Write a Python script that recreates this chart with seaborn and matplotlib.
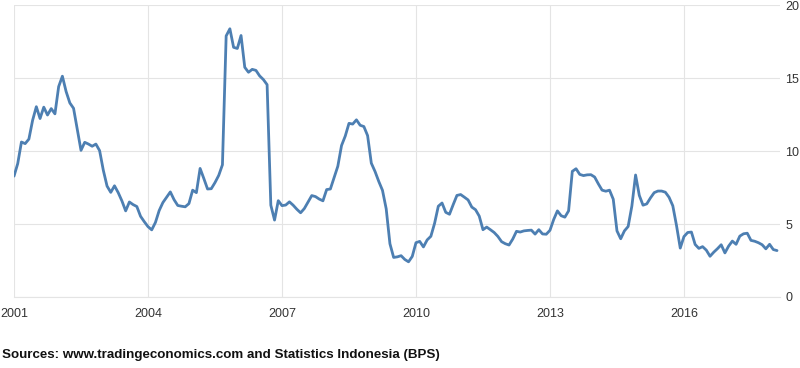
"""
Indonesia inflation rate (YoY, %), monthly, Jan 2001 - Feb 2018.
Recreated in the trading economics chart style.
"""

import matplotlib
matplotlib.use("Agg")

import matplotlib.pyplot as plt
import numpy as np
import pandas as pd
import seaborn as sns


# -----------------------------
# 1. Data
# -----------------------------

START_YEAR = 2001

# Monthly inflation values, one list per year (Jan..Dec).
INFLATION_2001 = [8.28, 9.14, 10.62, 10.51, 10.82, 12.11, 13.04, 12.23, 13.01, 12.47, 12.91, 12.55]
INFLATION_2002 = [14.42, 15.13, 14.08, 13.30, 12.93, 11.48, 10.05, 10.60, 10.48, 10.33, 10.48, 10.03]
INFLATION_2003 = [8.68, 7.60, 7.17, 7.62, 7.15, 6.58, 5.90, 6.51, 6.33, 6.20, 5.53, 5.16]
INFLATION_2004 = [4.82, 4.60, 5.11, 5.92, 6.47, 6.83, 7.20, 6.67, 6.27, 6.22, 6.18, 6.40]
INFLATION_2005 = [7.32, 7.15, 8.81, 8.12, 7.40, 7.42, 7.84, 8.33, 9.06, 17.89, 18.38, 17.11]
INFLATION_2006 = [17.03, 17.92, 15.74, 15.40, 15.60, 15.53, 15.15, 14.90, 14.55, 6.29, 5.27, 6.60]
INFLATION_2007 = [6.26, 6.30, 6.52, 6.29, 6.01, 5.77, 6.06, 6.51, 6.95, 6.88, 6.71, 6.59]
INFLATION_2008 = [7.36, 7.40, 8.17, 8.96, 10.38, 11.03, 11.90, 11.85, 12.14, 11.77, 11.68, 11.06]
INFLATION_2009 = [9.17, 8.60, 7.92, 7.31, 6.04, 3.65, 2.71, 2.75, 2.83, 2.57, 2.41, 2.78]
INFLATION_2010 = [3.72, 3.81, 3.43, 3.91, 4.16, 5.05, 6.22, 6.44, 5.80, 5.67, 6.33, 6.96]
INFLATION_2011 = [7.02, 6.84, 6.65, 6.16, 5.98, 5.54, 4.61, 4.79, 4.61, 4.42, 4.15, 3.79]
INFLATION_2012 = [3.65, 3.56, 3.97, 4.50, 4.45, 4.53, 4.56, 4.58, 4.31, 4.61, 4.32, 4.30]
INFLATION_2013 = [4.57, 5.31, 5.90, 5.57, 5.47, 5.90, 8.61, 8.79, 8.40, 8.32, 8.37, 8.38]
INFLATION_2014 = [8.22, 7.75, 7.32, 7.25, 7.32, 6.70, 4.53, 3.99, 4.53, 4.83, 6.23, 8.36]
INFLATION_2015 = [6.96, 6.29, 6.38, 6.79, 7.15, 7.26, 7.26, 7.18, 6.83, 6.25, 4.89, 3.35]
INFLATION_2016 = [4.14, 4.42, 4.45, 3.60, 3.33, 3.45, 3.21, 2.79, 3.07, 3.31, 3.58, 3.02]
INFLATION_2017 = [3.49, 3.83, 3.61, 4.17, 4.33, 4.37, 3.88, 3.82, 3.72, 3.58, 3.30, 3.61]
INFLATION_2018 = [3.25, 3.18]

X_TICKS = [2001, 2004, 2007, 2010, 2013, 2016]
Y_TICKS = [0, 5, 10, 15, 20]

SOURCE_TEXT = "Sources: www.tradingeconomics.com and Statistics Indonesia (BPS)"

LINE_COLOR = "#4d7fb2"
GRID_COLOR = "#e4e4e4"
LABEL_COLOR = "#333333"


# -----------------------------
# 2. Build the table
# -----------------------------

def build_frame() -> pd.DataFrame:
    """Join the yearly lists into one monthly table with a decimal year column."""
    values = (
        INFLATION_2001 + INFLATION_2002 + INFLATION_2003 + INFLATION_2004
        + INFLATION_2005 + INFLATION_2006 + INFLATION_2007 + INFLATION_2008
        + INFLATION_2009 + INFLATION_2010 + INFLATION_2011 + INFLATION_2012
        + INFLATION_2013 + INFLATION_2014 + INFLATION_2015 + INFLATION_2016
        + INFLATION_2017 + INFLATION_2018
    )
    year = START_YEAR + np.arange(len(values)) / 12
    return pd.DataFrame({"Year": year, "Inflation": values})


# -----------------------------
# 3. Plot
# -----------------------------

def main() -> None:
    data = build_frame()

    sns.set_theme(style="white")
    plt.rcParams["font.family"] = ["Liberation Sans", "DejaVu Sans"]

    fig = plt.figure(figsize=(8, 3.68), dpi=100)
    ax = fig.add_axes([0.0175, 0.193, 0.9575, 0.793])

    sns.lineplot(data=data, x="Year", y="Inflation", ax=ax,
                 color=LINE_COLOR, linewidth=2.0, solid_joinstyle="round",
                 solid_capstyle="round")

    ax.set_xlim(2001, 2018.15)
    ax.set_ylim(0, 20)
    ax.set_xticks(X_TICKS)
    ax.set_xticklabels([str(t) for t in X_TICKS])
    ax.set_yticks(Y_TICKS)
    ax.set_xlabel("")
    ax.set_ylabel("")

    ax.yaxis.tick_right()
    ax.tick_params(axis="y", length=0, pad=4, labelsize=9, labelcolor=LABEL_COLOR)
    ax.tick_params(axis="x", length=4, width=0.8, color=GRID_COLOR, pad=4,
                   labelsize=9, labelcolor=LABEL_COLOR)

    ax.grid(True, color=GRID_COLOR, linewidth=0.8)
    ax.set_axisbelow(True)
    for side in ["top", "left", "right"]:
        ax.spines[side].set_visible(False)
    ax.spines["bottom"].set_color(GRID_COLOR)
    ax.spines["bottom"].set_linewidth(0.8)

    fig.text(0.003, 0.035, SOURCE_TEXT, fontsize=9.6, fontweight="bold",
             color="#111111", ha="left", va="center")

    fig.savefig("out.png", dpi=100, facecolor="white")


if __name__ == "__main__":
    main()
